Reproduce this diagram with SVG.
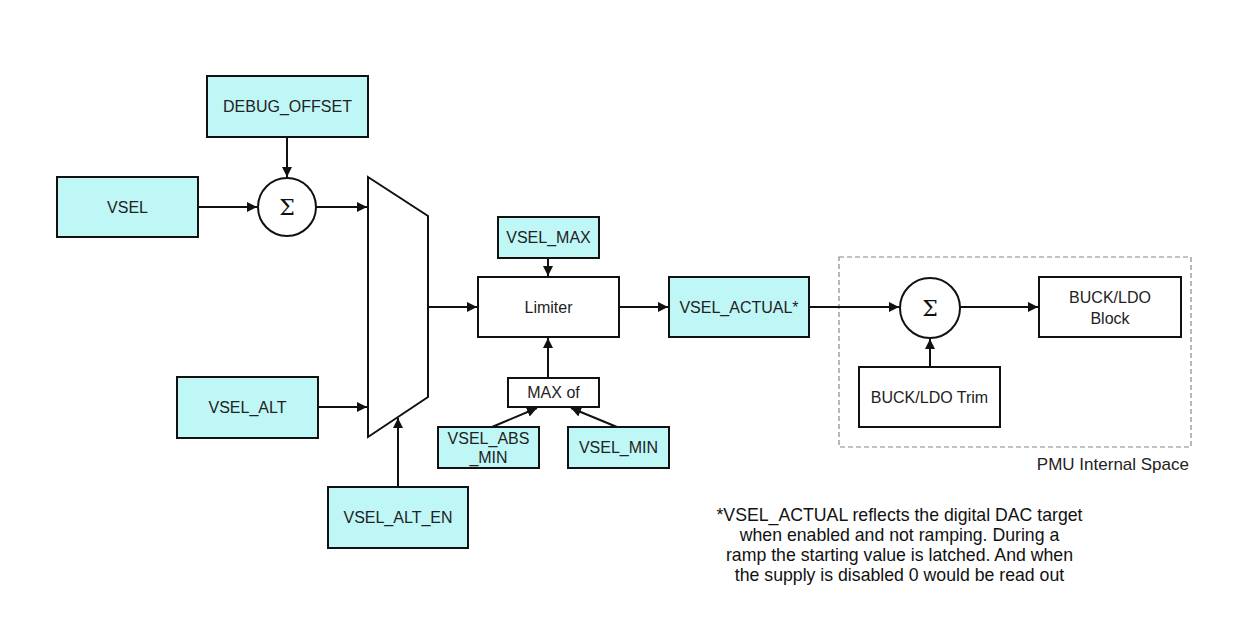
<svg xmlns="http://www.w3.org/2000/svg" width="1251" height="628" viewBox="0 0 1251 628">
<style>
.box{fill:#bff7f7;stroke:#111;stroke-width:2}
.wbox{fill:#fff;stroke:#111;stroke-width:2}
.t{font-family:"Liberation Sans",Arial,sans-serif;font-size:16px;fill:#222;text-anchor:middle}
.n{font-family:"Liberation Sans",Arial,sans-serif;font-size:17.7px;fill:#111;text-anchor:middle}
.sig{font-family:"DejaVu Serif","Liberation Serif",serif;font-size:22px;fill:#111;text-anchor:middle}
.c{stroke:#111;stroke-width:2;fill:none;marker-end:url(#ah)}
</style>
<defs>
<marker id="ah" viewBox="0 0 10 10" refX="10" refY="5" markerWidth="5" markerHeight="5" orient="auto" markerUnits="strokeWidth">
<path d="M0,0 L10,5 L0,10 z" fill="#111"/>
</marker>
</defs>
<rect width="1251" height="628" fill="#fff"/>
<g id="pmu-space">
<rect x="839" y="257" width="352" height="190" fill="none" stroke="#888" stroke-width="1.2" stroke-dasharray="5,3"/>
<text x="1189" y="470" style="font-family:'Liberation Sans',Arial,sans-serif;font-size:17px;fill:#222;text-anchor:end">PMU Internal Space</text>
</g>
<g id="debug-offset"><rect class="box" x="207" y="76" width="161" height="61"/><text class="t" x="287.5" y="112">DEBUG_OFFSET</text></g>
<g id="vsel"><rect class="box" x="57" y="177" width="141" height="60"/><text class="t" x="127.5" y="213">VSEL</text></g>
<g id="sum1"><circle cx="287" cy="207" r="29" fill="#fff" stroke="#111" stroke-width="2"/><text class="sig" x="287" y="215">Σ</text></g>
<g id="mux"><path d="M368,177 L428,216 L428,397 L368,437 Z" fill="#fff" stroke="#111" stroke-width="2"/></g>
<g id="vsel-alt"><rect class="box" x="177" y="377" width="141" height="61"/><text class="t" x="247.5" y="413">VSEL_ALT</text></g>
<g id="vsel-alt-en"><rect class="box" x="328" y="487" width="140" height="61"/><text class="t" x="398" y="523">VSEL_ALT_EN</text></g>
<g id="vsel-max"><rect class="box" x="498" y="217" width="101" height="41"/><text class="t" x="548.5" y="243">VSEL_MAX</text></g>
<g id="limiter"><rect class="wbox" x="478" y="277" width="141" height="60"/><text class="t" x="548.5" y="313">Limiter</text></g>
<g id="max-of"><rect class="wbox" x="508" y="378" width="91" height="29"/><text class="t" x="553.5" y="398">MAX of</text></g>
<g id="vsel-abs-min"><rect class="box" x="438" y="427" width="101" height="41"/><text class="t" x="488.5" y="444">VSEL_ABS</text><text class="t" x="488.5" y="463">_MIN</text></g>
<g id="vsel-min"><rect class="box" x="568" y="427" width="101" height="41"/><text class="t" x="618.5" y="453">VSEL_MIN</text></g>
<g id="vsel-actual"><rect class="box" x="669" y="277" width="140" height="60"/><text class="t" x="739" y="313">VSEL_ACTUAL*</text></g>
<g id="sum2"><circle cx="930" cy="308" r="30" fill="#fff" stroke="#111" stroke-width="2"/><text class="sig" x="930" y="316">Σ</text></g>
<g id="buck-block"><rect class="wbox" x="1039" y="277" width="142" height="60"/><text class="t" x="1110" y="303">BUCK/LDO</text><text class="t" x="1110" y="324">Block</text></g>
<g id="buck-trim"><rect class="wbox" x="859" y="367" width="141" height="60"/><text class="t" x="929.5" y="403">BUCK/LDO Trim</text></g>
<g id="connectors">
<line class="c" x1="198" y1="207" x2="257" y2="207"/>
<line class="c" x1="287" y1="137" x2="287" y2="177"/>
<line class="c" x1="316" y1="207" x2="367" y2="207"/>
<line class="c" x1="318" y1="407" x2="367" y2="407"/>
<line class="c" x1="398" y1="487" x2="398" y2="418"/>
<line class="c" x1="428" y1="307" x2="477" y2="307"/>
<line class="c" x1="548" y1="258" x2="548" y2="276"/>
<line class="c" x1="548" y1="378" x2="548" y2="338"/>
<line class="c" x1="492" y1="427" x2="537" y2="408"/>
<line class="c" x1="617" y1="427" x2="571" y2="408"/>
<line class="c" x1="619" y1="307" x2="668" y2="307"/>
<line class="c" x1="809" y1="307" x2="899" y2="307"/>
<line class="c" x1="960" y1="307" x2="1038" y2="307"/>
<line class="c" x1="930" y1="367" x2="930" y2="339"/>
</g>
<g id="note">
<text class="n" x="899.5" y="521">*VSEL_ACTUAL reflects the digital DAC target</text>
<text class="n" x="899.5" y="541">when enabled and not ramping. During a</text>
<text class="n" x="899.5" y="561">ramp the starting value is latched. And when</text>
<text class="n" x="899.5" y="581">the supply is disabled 0 would be read out</text>
</g>
</svg>
